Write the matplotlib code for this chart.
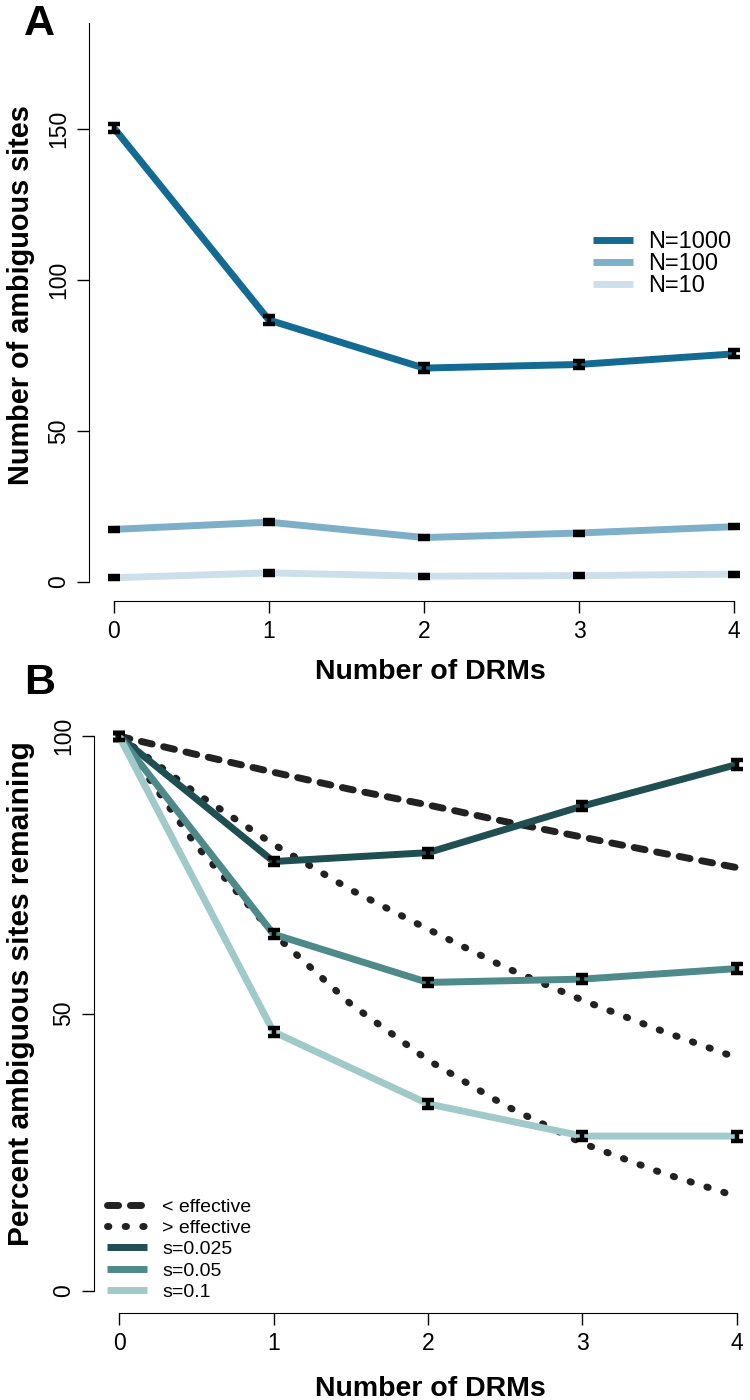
import matplotlib
matplotlib.use("Agg")
import matplotlib.pyplot as plt

plt.rcParams['font.family'] = ['Liberation Sans', 'DejaVu Sans']
plt.rcParams['lines.scale_dashes'] = False

# ---- data ----
drms = [0, 1, 2, 3, 4]

# panel A: number of ambiguous sites
n1000 = [150.3, 86.7, 70.8, 72.0, 75.5]
n100 = [17.4, 19.8, 14.7, 16.2, 18.3]
n10 = [1.4, 3.0, 1.9, 2.1, 2.6]
err1000 = [1.2, 1.2, 1.2, 1.2, 1.2]
err_small = [0.5, 0.6, 0.5, 0.5, 0.5]

# panel B: percent remaining
s0025 = [100, 77.4, 79.0, 87.4, 94.9]
s005 = [100, 64.3, 55.6, 56.2, 58.1]
s01 = [100, 46.7, 33.7, 27.9, 27.9]
err_pct = [0.6, 0.7, 0.7, 0.7, 0.8]

# expected curves (read at half steps)
xs_half = [0, 0.5, 1, 1.5, 2, 2.5, 3, 3.5, 4]
less_eff = [100, 96.7, 93.5, 90.4, 87.6, 84.6, 81.8, 79.0, 76.3]
more_eff1 = [100, 89.7, 80.5, 72.3, 65.2, 58.3, 52.4, 47.0, 42.0]
more_eff2 = [100, 80.3, 64.4, 51.7, 41.6, 33.4, 26.6, 21.4, 17.0]

W, H = 750, 1400
fig = plt.figure(figsize=(7.5, 14), dpi=100)


def ax_at(left, right, top, bottom):
    return fig.add_axes([left / W, 1 - bottom / H, (right - left) / W, (bottom - top) / H])


def style(ax, ymax_spine, yticks):
    for s in ['top', 'right']:
        ax.spines[s].set_visible(False)
    ax.spines['left'].set_bounds(0, ymax_spine)
    ax.spines['bottom'].set_bounds(0, 4)
    ax.set_xticks(drms)
    ax.set_yticks(yticks)
    ax.tick_params(length=8.5, width=1, labelsize=16.5, pad=5)
    for lab in ax.get_yticklabels():
        lab.set_rotation(90)
        lab.set_va('center')


blk = '#222222'
dashed = (0, (8, 8.5))
dotted = (0, (1, 11.7))

# ---- panel A ----
axA = ax_at(89, 759, 17, 601)
axA.set_xlim(-0.16, 4.16)
axA.set_ylim(-6.3, 187)
colsA = ['#136b94', '#7eafc9', '#cde0ea']
for y, c, lab, e in [(n1000, colsA[0], 'N=1000', err1000),
                     (n100, colsA[1], 'N=100', err_small),
                     (n10, colsA[2], 'N=10', err_small)]:
    axA.plot(drms, y, color=c, lw=5, label=lab, solid_capstyle='butt', clip_on=False)
    axA.errorbar(drms, y, yerr=e, fmt='none', ecolor='black', elinewidth=3.2,
                 capsize=4.5, capthick=3.2, clip_on=False)
style(axA, 185, [0, 50, 100, 150])
axA.legend(loc='upper left', bbox_to_anchor=(593 / W, 1 - 231 / H),
           bbox_transform=fig.transFigure, frameon=False, fontsize=17,
           handlelength=1.7, handletextpad=0.64, labelspacing=0.01,
           borderpad=0, borderaxespad=0)
fig.text(39 / W, 1 - 24 / H, 'A', fontsize=31, fontweight='bold', ha='center', va='center')
fig.text(21 / W, 1 - 295 / H, 'Number of ambiguous sites', fontsize=20.8, fontweight='bold',
         rotation=90, ha='center', va='center')
fig.text(430 / W, 1 - 672 / H, 'Number of DRMs', fontsize=20.5, fontweight='bold',
         ha='center', va='center')

# ---- panel B ----
axB = ax_at(94, 762, 714, 1313)
axB.set_xlim(-0.162, 4.162)
axB.set_ylim(-4, 104)
axB.plot(xs_half, less_eff, color=blk, lw=5, linestyle=dashed,
         dash_capstyle='round', label='< effective')
axB.plot(xs_half, more_eff1, color=blk, lw=5, linestyle=dotted,
         dash_capstyle='round', label='> effective')
axB.plot(xs_half, more_eff2, color=blk, lw=5, linestyle=dotted,
         dash_capstyle='round')
colsB = ['#1f4f50', '#4f8a8a', '#a0caca']
for y, c, lab in [(s0025, colsB[0], 's=0.025'), (s005, colsB[1], 's=0.05'),
                  (s01, colsB[2], 's=0.1')]:
    axB.plot(drms, y, color=c, lw=5, label=lab, solid_capstyle='butt', clip_on=False)
    axB.errorbar(drms, y, yerr=err_pct, fmt='none', ecolor='black', elinewidth=3.2,
                 capsize=4.5, capthick=3.2, clip_on=False)
style(axB, 100, [0, 50, 100])
axB.legend(loc='upper left', bbox_to_anchor=(107 / W, 1 - 1198 / H),
           bbox_transform=fig.transFigure, frameon=False, fontsize=14,
           handlelength=2.06, handletextpad=0.77, labelspacing=0.19,
           borderpad=0, borderaxespad=0)
fig.text(40 / W, 1 - 683 / H, 'B', fontsize=31, fontweight='bold', ha='center', va='center')
fig.text(21 / W, 1 - 994 / H, 'Percent ambiguous sites remaining', fontsize=21.5,
         fontweight='bold', rotation=90, ha='center', va='center')
fig.text(430 / W, 1 - 1389 / H, 'Number of DRMs', fontsize=20.5, fontweight='bold',
         ha='center', va='center')

fig.savefig('out.png', dpi=100)
